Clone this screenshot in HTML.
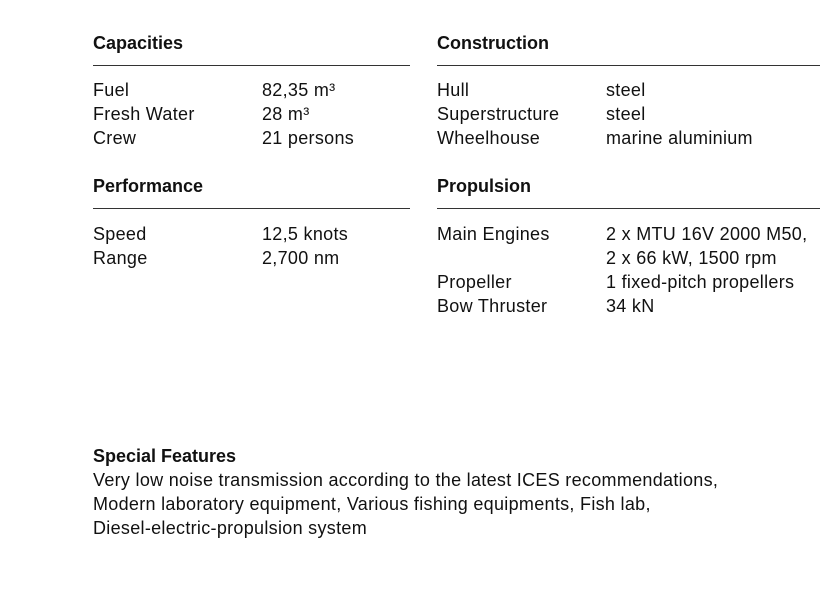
<!DOCTYPE html>
<html><head><style>
body{margin:0;width:830px;height:595px;background:#fff;position:relative;font-family:"Liberation Sans",sans-serif;color:#111;font-size:18px;overflow:hidden}
.t{position:absolute;white-space:nowrap;line-height:24px;letter-spacing:0.3px}
.b{font-weight:bold;letter-spacing:0}
.l{position:absolute;height:1px;background:#333}
</style></head><body>
<div class="t b" style="left:93px;top:31px">Capacities</div>
<div class="t b" style="left:437px;top:31px">Construction</div>
<div class="l" style="left:93px;top:65px;width:317px"></div>
<div class="l" style="left:437px;top:65px;width:383px"></div>
<div class="t" style="left:93px;top:78px">Fuel<br>Fresh Water<br>Crew</div>
<div class="t" style="left:262px;top:78px">82,35 m³<br>28 m³<br>21 persons</div>
<div class="t" style="left:437px;top:78px">Hull<br>Superstructure<br>Wheelhouse</div>
<div class="t" style="left:606px;top:78px">steel<br>steel<br>marine aluminium</div>
<div class="t b" style="left:93px;top:174px">Performance</div>
<div class="t b" style="left:437px;top:174px">Propulsion</div>
<div class="l" style="left:93px;top:208px;width:317px"></div>
<div class="l" style="left:437px;top:208px;width:383px"></div>
<div class="t" style="left:93px;top:222px">Speed<br>Range</div>
<div class="t" style="left:262px;top:222px">12,5 knots<br>2,700 nm</div>
<div class="t" style="left:437px;top:222px">Main Engines<br><br>Propeller<br>Bow Thruster</div>
<div class="t" style="left:606px;top:222px">2 x MTU 16V 2000 M50,<br>2 x 66 kW, 1500 rpm<br>1 fixed-pitch propellers<br>34 kN</div>
<div class="t" style="left:93px;top:444px"><span class="b">Special Features</span><br>Very low noise transmission according to the latest ICES recommendations,<br>Modern laboratory equipment, Various fishing equipments, Fish lab,<br>Diesel-electric-propulsion system</div>
</body></html>
